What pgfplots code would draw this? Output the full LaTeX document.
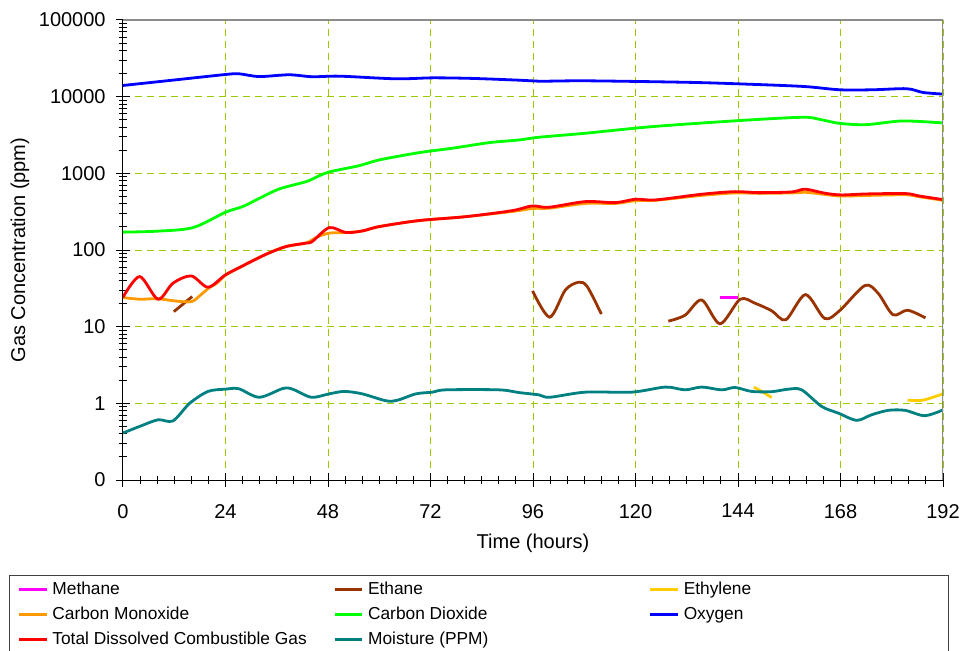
\documentclass[border=0pt]{standalone}
\usepackage{pgfplots}
\pgfplotsset{compat=1.18}
\usepackage{fontspec}
\setmainfont{Liberation Sans}
\definecolor{gridc}{RGB}{153,204,0}
\definecolor{cMeth}{RGB}{255,0,255}
\definecolor{cEth}{RGB}{153,51,0}
\definecolor{cEthy}{RGB}{255,204,0}
\definecolor{cCO}{RGB}{255,153,0}
\definecolor{cCOt}{RGB}{0,255,0}
\definecolor{cOx}{RGB}{0,0,255}
\definecolor{cTD}{RGB}{255,0,0}
\definecolor{cMo}{RGB}{0,128,128}
\definecolor{frameg}{RGB}{140,140,140}
\begin{document}
\begin{tikzpicture}
\path[use as bounding box] (-92.25pt,-127.5pt) rectangle (630.75pt,360pt);
\begin{axis}[
  at={(0pt,0pt)}, anchor=south west,
  scale only axis, width=615pt, height=345pt,
  xmin=0, xmax=192,
  ymode=log, ymin=0.1, ymax=100000,
  xtick={0,24,...,192}, minor x tick num=5,
  ytick={0.1,1,10,100,1000,10000,100000},
  yticklabels={0,1,10,100,1000,10000,100000},
  minor ytick={0.2,0.3,0.4,0.5,0.6,0.7,0.8,0.9,2,3,4,5,6,7,8,9,20,30,40,50,60,70,80,90,200,300,400,500,600,700,800,900,2000,3000,4000,5000,6000,7000,8000,9000,20000,30000,40000,50000,60000,70000,80000,90000},
  /pgf/number format/assume math mode=true,
  axis x line*=bottom, axis y line*=left,
  axis line style={black, line width=0.75pt, -},
  tick style={black, line width=0.75pt},
  tick align=center,
  major tick length=10pt, minor tick length=6.5pt,
  grid=major,
  major grid style={gridc, dash pattern=on 5.25pt off 3.75pt, line width=0.75pt},
  ticklabel style={font=\fontsize{15}{18}\selectfont},
  xticklabel style={yshift=-9.5pt},
  yticklabel style={xshift=-4.5pt},
  label style={font=\fontsize{15}{18}\selectfont},
  xlabel={Time (hours)},
  ylabel={Gas Concentration (ppm)},
  xlabel style={at={(axis description cs:0.5,-0.137)}, anchor=center},
  ylabel style={at={(axis description cs:-0.1256,0.5)}, anchor=center},
  legend columns=3,
  legend cell align=left,
  legend style={at={(axis description cs:-0.1387,-0.2072)}, anchor=north west,
    draw={rgb,255:red,64;green,64;blue,64}, line width=0.75pt,
    font=\fontsize{13}{15}\selectfont,
    inner xsep=6pt, inner ysep=4pt, row sep=5.75pt,
    nodes={inner sep=0pt, text height=10pt, text depth=3pt},
    /tikz/every odd column/.append style={column sep=3.3pt}},
  legend image code/.code={\draw[#1, line width=2pt] (0pt,0pt) -- (20.7pt,0pt);},
  every axis plot/.append style={line width=2.1pt, smooth},
]
% Methane
\addplot[cMeth, sharp plot] coordinates {(139.7,24) (144,24)};
\addlegendentry{\makebox[210.75pt][l]{Methane}}
% Ethane segment 1
\addplot[cEth, sharp plot] coordinates {(11.9,15.7) (16.2,24.7)};
\addlegendentry{\makebox[210.75pt][l]{Ethane}}
% Ethylene segment 1
\addplot[cEthy] coordinates {(147.7,1.63) (150,1.38) (151.9,1.19)};
\addlegendentry{\makebox[192.5pt][l]{Ethylene}}
% Carbon monoxide
\addplot[cCO] coordinates {
(0,24) (4,22.8) (8,23.2) (12,21.7) (16,21.2) (18,25.4) (20,31.6) (22,37) (24,47)
(28,62) (33.5,88) (38.2,111) (42.8,123) (45.5,148) (48.3,166) (52.2,169) (56,177)
(60,202) (69.3,242) (80.2,272) (91.1,318) (96,348) (100,352) (108.3,405) (115.3,405)
(120,440) (124.7,445) (135.5,515) (143.3,555) (148.8,548) (156.6,555) (160,565)
(164.4,530) (168.2,505) (174.4,515) (183.3,525) (186.4,495) (192,445)};
\addlegendentry{\makebox[210.75pt][l]{Carbon Monoxide}}
% Carbon dioxide
\addplot[cCOt] coordinates {
(0,171) (8,176) (16.4,196) (24,311) (28,368) (32,474) (36.6,626) (42.9,780) (45,879)
(48.3,1043) (55.3,1259) (60,1496) (69.3,1862) (77.1,2125) (85.7,2513) (92.8,2727)
(97.4,2956) (108.3,3335) (123.9,4066) (144,4867) (159,5387) (163,5073) (167.6,4500)
(174,4315) (182.5,4823) (192,4540)};
\addlegendentry{\makebox[210.75pt][l]{Carbon Dioxide}}
% Oxygen
\addplot[cOx] coordinates {
(0,14000) (12,16500) (24,19460) (27.1,19900) (31.9,18300) (38.9,19300) (44.3,18200)
(50.8,18500) (63.9,17100) (72.5,17600) (81.8,17300) (92.8,16400) (97.5,15900)
(108.5,16100) (131.9,15400) (144.1,14700) (159.2,13600) (167.8,12300) (175.6,12300)
(183.5,12700) (187.3,11350) (192,10800)};
\addlegendentry{\makebox[192.5pt][l]{Oxygen}}
% TDCG
\addplot[cTD] coordinates {
(0,24.2) (3.9,45) (8.2,22.8) (11.7,36.9) (16,45.9) (19.9,32.7) (24,47.4) (28,62)
(33.5,88) (38.2,111) (42.8,123) (44.3,129) (48.3,196) (52.2,169) (56,177) (60,202)
(69.3,242) (80.2,272) (91.1,326) (95.8,376) (99.7,361) (108.3,428) (115.3,415)
(120,460) (124.7,450) (135.5,534) (143.3,577) (148.8,560) (156.6,572) (159.7,621)
(164.4,550) (168.2,523) (174.4,539) (183.3,544) (186.4,507) (192,454)};
\addlegendentry{\makebox[210.75pt][l]{Total Dissolved Combustible Gas}}
% Moisture
\addplot[cMo] coordinates {
(0,0.41) (3.9,0.50) (8.2,0.61) (11.7,0.59) (15.6,1.0) (19.9,1.43) (24,1.53) (27.1,1.55)
(31.9,1.2) (37.4,1.56) (39.7,1.53) (44.1,1.2) (48.3,1.33) (51.8,1.43) (56,1.33)
(61.6,1.08) (64.3,1.1) (68.6,1.33) (72.5,1.4) (75.6,1.5) (88,1.5) (92.8,1.38)
(97.4,1.29) (99.9,1.2) (108.3,1.4) (119.2,1.4) (127,1.63) (131.6,1.5) (135.5,1.63)
(140.2,1.5) (143.3,1.61) (147.2,1.43) (151.9,1.42) (155.8,1.53) (158.9,1.5)
(163.6,0.91) (167.5,0.745) (171.8,0.60) (175.3,0.71) (179.2,0.81) (183.1,0.81)
(187.7,0.69) (192,0.82)};
\addlegendentry{\makebox[210.75pt][l]{Moisture (PPM)}}
% Ethane segments 2 and 3
\addplot[cEth, forget plot] coordinates {
(95.9,29.3) (99.9,13.3) (103.6,30.2) (106.7,38) (108.7,33.3) (112,14.6)};
\addplot[cEth, forget plot] coordinates {
(127.7,11.8) (131.6,14.1) (135.5,22.3) (139.8,10.9) (144.5,22.8) (148,20.2) (151.9,16.1)
(155.2,12.3) (159.8,26.2) (164.3,12.8) (167.8,16.2) (173.7,34.4) (176.8,27.3)
(180.3,14.3) (183.7,16.4) (187.9,13.0)};
% Ethylene segment 2
\addplot[cEthy, forget plot] coordinates {(183.7,1.10) (187.3,1.10) (192,1.33)};
\draw[frameg, line width=1.2pt] (rel axis cs:0,1) -- (rel axis cs:1,1) -- (rel axis cs:1,0);
\end{axis}
\end{tikzpicture}
\end{document}
